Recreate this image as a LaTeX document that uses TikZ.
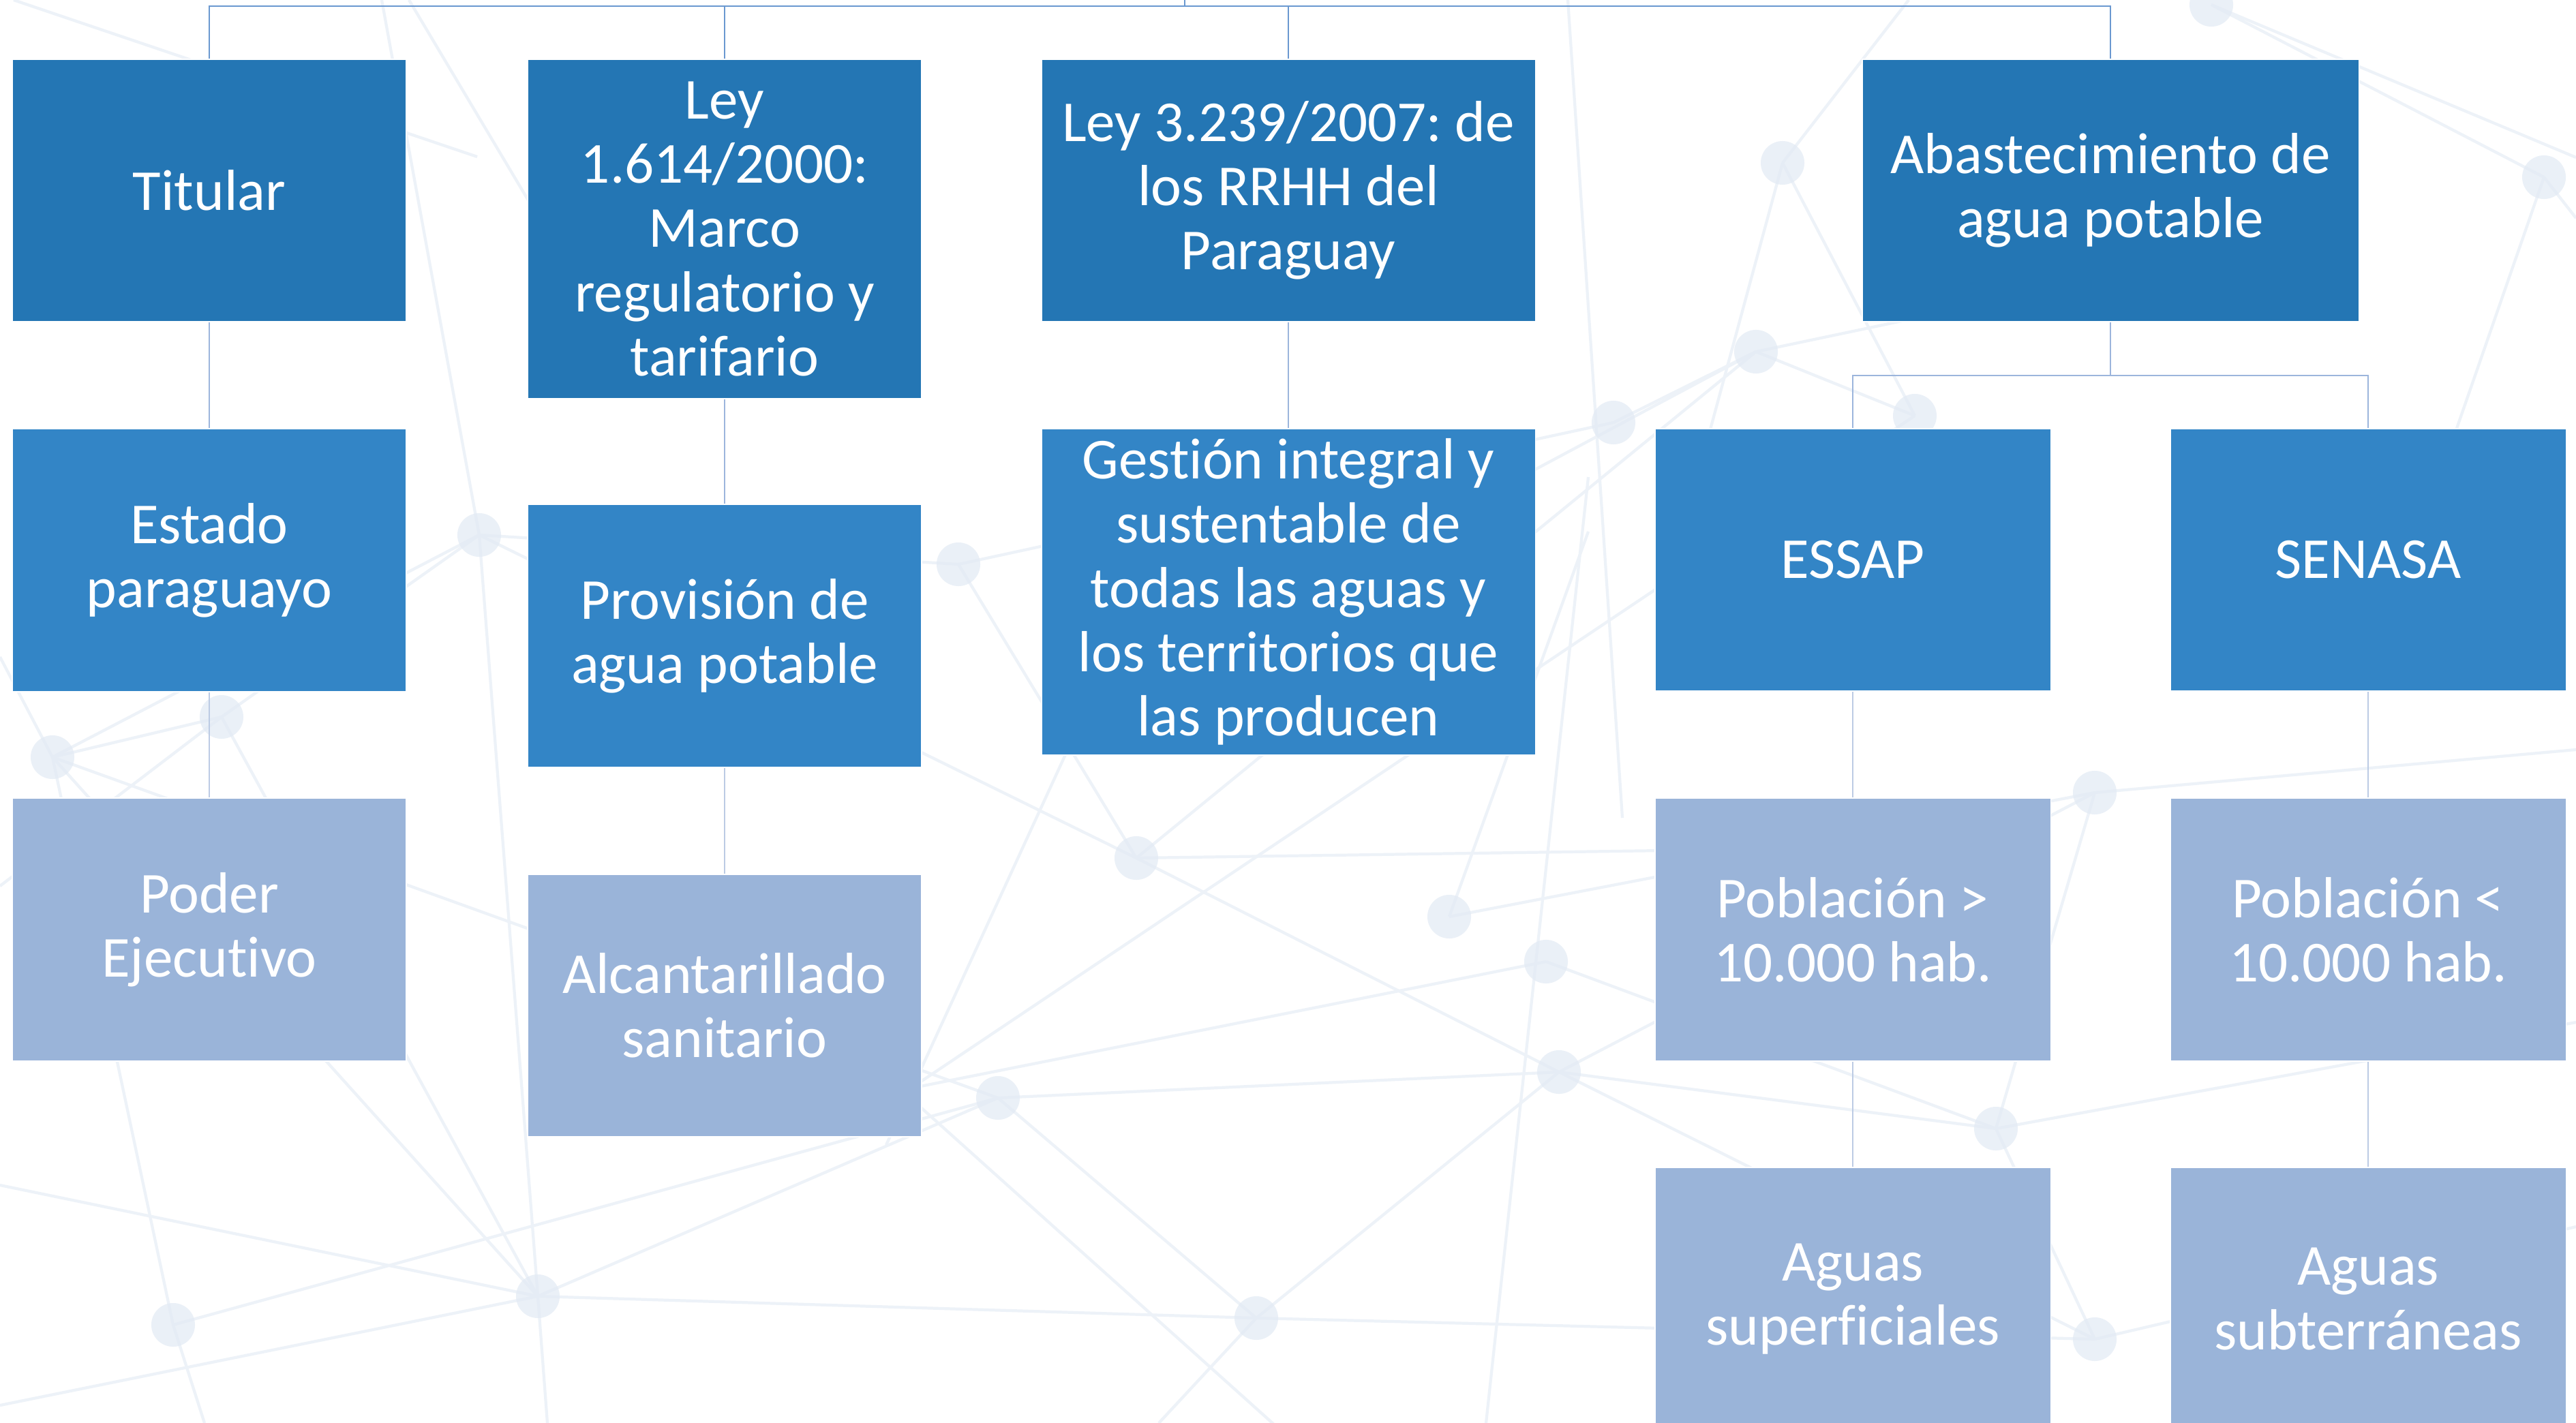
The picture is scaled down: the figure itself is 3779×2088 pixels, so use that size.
\documentclass[tikz,border=0pt]{standalone}
\usepackage{fontspec}
\setmainfont{Carlito}[Ligatures=NoCommon]
\frenchspacing
\definecolor{dark}{HTML}{2476B4}
\definecolor{mid}{HTML}{3385C6}
\definecolor{light}{HTML}{9AB4D9}
\definecolor{conA}{HTML}{6A98D0}
\definecolor{conB}{HTML}{9CB5DC}
\definecolor{conC}{HTML}{BCCBE4}
\definecolor{bgl}{HTML}{EDF2F8}
\definecolor{bgd}{HTML}{E2EAF4}
\begin{document}
\begin{tikzpicture}[x=0.01cm,y=-0.01cm,
  box/.style={rectangle, draw=white, line width=0.4pt, text=white, align=center,
    inner sep=0pt, font=\fontsize{24.2pt}{26.8pt}\selectfont},
  lvA/.style={box, fill=dark},
  lvB/.style={box, fill=mid},
  lvC/.style={box, fill=light},
  conn/.style={line width=0.75pt},
  bgline/.style={draw=bgl, line width=1.2pt},
  bgdot/.style={fill=bgd, fill opacity=0.7}]
\useasboundingbox (0,0) rectangle (3779,2088);
\fill[white] (0,0) rectangle (3779,2088);
% background network
\begin{scope}
\clip (0,0) rectangle (3779,2088);
\foreach \p/\q in {
 {77,1111}/{325,1052}, {77,1111}/{703,785}, {77,1111}/{254,1944}, {77,1111}/{0,964},
 {325,1052}/{703,785}, {325,1052}/{789,1902}, {703,785}/{1406,828}, {703,785}/{560,0},
 {703,785}/{789,1902}, {789,1902}/{803,2088}, {0,2062}/{789,1902}, {0,1739}/{789,1902},
 {254,1944}/{1464,1611}, {789,1902}/{1464,1611}, {789,1902}/{1843,1934}, {1843,1934}/{3073,1965},
 {77,1111}/{789,1902}, {77,1111}/{1464,1611}, {1300,1680}/{1750,700}, {703,785}/{1667,1259},
 {1667,1259}/{2287,1573}, {1667,1259}/{2440,1248}, {1667,1259}/{2576,516}, {2126,1345}/{2330,780},
 {2126,1345}/{3073,1163}, {2268,1411}/{2928,1656}, {1300,1604}/{2268,1411}, {1464,1611}/{2287,1573},
 {1464,1611}/{1843,1934}, {1843,1934}/{2287,1573}, {2287,1573}/{2928,1656}, {2287,1573}/{3073,1965},
 {2287,1573}/{3073,1163}, {2330,700}/{2180,2088}, {2809,610}/{1330,1601}, {1000,1310}/{1880,2100},
 {2615,239}/{2490,700}, {2615,239}/{2809,610}, {2576,516}/{2250,690}, {2576,516}/{2809,610},
 {2576,516}/{3460,330}, {3244,7}/{3779,231}, {2615,239}/{2800,0}, {3244,7}/{3732,260},
 {3732,260}/{3779,320}, {3732,260}/{3600,640}, {2928,1656}/{3073,1163}, {2928,1656}/{3073,1965},
 {3073,1965}/{3779,1800}, {2928,1656}/{3779,1500}, {1406,828}/{1667,1259}, {1406,828}/{2367,620},
 {2300,0}/{2380,1200}, {20,0}/{700,230}, {600,0}/{850,420}, {2367,620}/{2576,516},
 {254,1944}/{300,2088}, {1843,1934}/{1700,2088}, {0,1300}/{325,1052}, {3073,1163}/{3779,1100}}
 {\draw[bgline] (\p) -- (\q);}
\foreach \p in {{77,1111},{325,1052},{254,1944},{789,1902},{1464,1611},{1667,1259},{2126,1345},
 {2268,1411},{2287,1573},{1843,1934},{703,785},{1406,828},{2615,239},{2576,516},{3732,260},
 {3244,7},{2809,610},{2928,1656},{3073,1163},{3073,1965},{2367,620}}
 {\fill[bgdot] (\p) circle[radius=0.32cm];}
\end{scope}
% boxes
\node[lvA, minimum width=5.78cm, minimum height=3.85cm] (tit) at (307,279.5) {Titular};
\node[lvA, minimum width=5.78cm, minimum height=4.98cm] (leyA) at (1063,336) {Ley\\1.614/2000:\\Marco\\regulatorio y\\tarifario};
\node[lvA, minimum width=7.24cm, minimum height=3.85cm] (leyB) at (1890,279.5) {Ley 3.239/2007: de\\los RRHH del\\Paraguay};
\node[lvA, minimum width=7.28cm, minimum height=3.85cm] (aba) at (3096,279.5) {Abastecimiento de\\agua potable};
\node[lvB, minimum width=5.78cm, minimum height=3.86cm] (est) at (307,822) {Estado\\paraguayo};
\node[lvB, minimum width=5.78cm, minimum height=3.86cm] (pro) at (1063,933) {Provisión de\\agua potable};
\node[lvB, minimum width=7.24cm, minimum height=4.79cm] (ges) at (1890,868.5) {Gestión integral y\\sustentable de\\todas las aguas y\\los territorios que\\las producen};
\node[lvB, minimum width=5.80cm, minimum height=3.85cm] (essap) at (2718,821.5) {ESSAP};
\node[lvB, minimum width=5.80cm, minimum height=3.85cm] (senasa) at (3474,821.5) {SENASA};
\node[lvC, minimum width=5.78cm, minimum height=3.86cm] (pod) at (307,1364) {Poder\\Ejecutivo};
\node[lvC, minimum width=5.78cm, minimum height=3.85cm] (alc) at (1063,1475.5) {Alcantarillado\\sanitario};
\node[lvC, minimum width=5.80cm, minimum height=3.86cm] (pmay) at (2718,1364) {Población >\\10.000 hab.};
\node[lvC, minimum width=5.80cm, minimum height=3.86cm] (pmen) at (3474,1364) {Población <\\10.000 hab.};
\node[lvC, minimum width=5.80cm, minimum height=3.86cm] (asup) at (2718,1906) {Aguas\\superficiales};
\node[lvC, minimum width=5.80cm, minimum height=3.86cm] (asub) at (3474,1906) {Aguas\\subterráneas};
% connectors
\coordinate (root) at (1738,0);
\coordinate (bus) at (1738,9);
\coordinate (abaj) at (3096,551);
\draw[conn, conA] (root) -- (bus);
\draw[conn, conA] (bus) -| (tit.north);
\draw[conn, conA] (bus) -| (leyA.north);
\draw[conn, conA] (bus) -| (leyB.north);
\draw[conn, conA] (bus) -| (aba.north);
\draw[conn, conB] (tit.south) -- (est.north);
\draw[conn, conB] (leyA.south) -- (pro.north);
\draw[conn, conB] (leyB.south) -- (ges.north);
\draw[conn, conB] (aba.south) -- (abaj) -| (essap.north);
\draw[conn, conB] (abaj) -| (senasa.north);
\draw[conn, conC] (est.south) -- (pod.north);
\draw[conn, conC] (pro.south) -- (alc.north);
\draw[conn, conC] (essap.south) -- (pmay.north);
\draw[conn, conC] (senasa.south) -- (pmen.north);
\draw[conn, conC] (pmay.south) -- (asup.north);
\draw[conn, conC] (pmen.south) -- (asub.north);
\end{tikzpicture}
\end{document}
